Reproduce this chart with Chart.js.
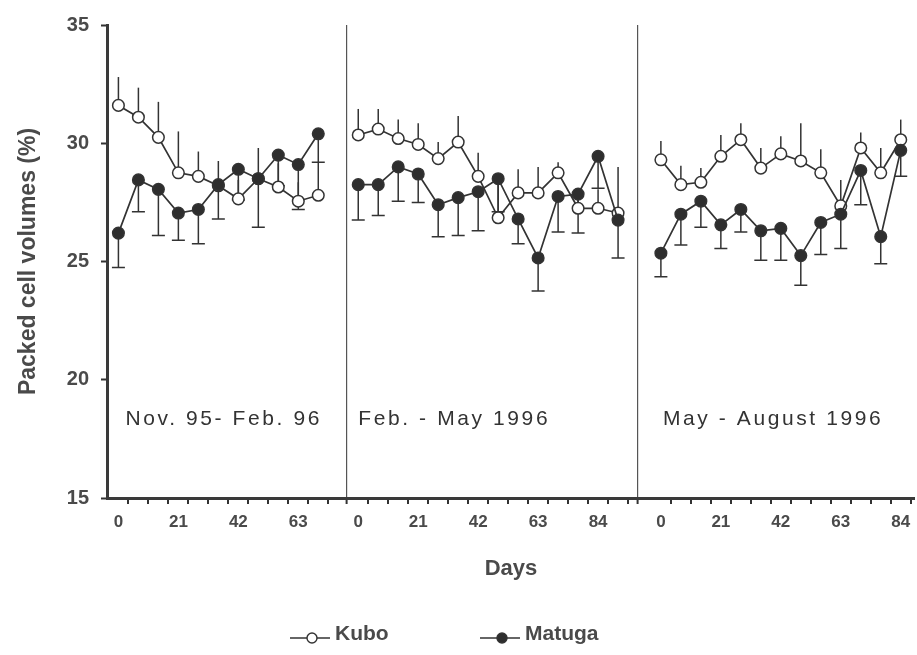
<!DOCTYPE html>
<html>
<head>
<meta charset="utf-8">
<title>Packed cell volumes</title>
<script src="https://cdn.jsdelivr.net/npm/chart.js@4.4.1/dist/chart.umd.min.js"></script>
<style>
  body { margin: 0; background: #fff; }
  #wrap { width: 917px; height: 655px; }
</style>
</head>
<body>
<div id="wrap"><canvas id="pcvChart" width="917" height="655"></canvas></div>
<script>
// sampling days in each period
var daysNovFeb = [0, 7, 14, 21, 28, 35, 42, 49, 56, 63, 70];
var daysFebMay = [0, 7, 14, 21, 28, 35, 42, 49, 56, 63, 70, 77, 84, 91];
var daysMayAug = [0, 7, 14, 21, 28, 35, 42, 49, 56, 63, 70, 77, 84];

var periodNames = ['Nov. 95- Feb. 96', 'Feb. - May 1996', 'May - August 1996'];

// mean PCV (%) and SE per herd
var kuboNovFeb     = [31.6, 31.1, 30.25, 28.75, 28.6, 28.2, 27.65, 28.5, 28.15, 27.55, 27.8];
var kuboNovFebSE   = [1.2, 1.25, 1.5, 1.75, 1.05, 1.05, 0.8, 1.3, 1.0, 0.8, 1.4];
var matugaNovFeb   = [26.2, 28.45, 28.05, 27.05, 27.2, 28.25, 28.9, 28.5, 29.5, 29.1, 30.4];
var matugaNovFebSE = [1.45, 1.35, 1.95, 1.15, 1.45, 1.45, 1.3, 2.05, 1.3, 1.9, 1.2];

var kuboFebMay     = [30.35, 30.6, 30.2, 29.95, 29.35, 30.05, 28.6, 26.85, 27.9, 27.9, 28.75, 27.25, 27.25, 27.05];
var kuboFebMaySE   = [1.1, 0.85, 0.8, 0.9, 0.7, 1.1, 1.0, 1.5, 1.0, 1.1, 0.45, 0.6, 0.8, 1.95];
var matugaFebMay   = [28.25, 28.25, 29.0, 28.7, 27.4, 27.7, 27.95, 28.5, 26.8, 25.15, 27.75, 27.85, 29.45, 26.75];
var matugaFebMaySE = [1.5, 1.3, 1.45, 1.2, 1.35, 1.6, 1.65, 1.4, 1.05, 1.4, 1.5, 1.65, 1.35, 1.6];

var kuboMayAug     = [29.3, 28.25, 28.35, 29.45, 30.15, 28.95, 29.55, 29.25, 28.75, 27.35, 29.8, 28.75, 30.15];
var kuboMayAugSE   = [0.8, 0.8, 0.6, 0.9, 0.7, 0.85, 0.75, 1.6, 1.0, 1.1, 0.65, 1.05, 0.85];
var matugaMayAug   = [25.35, 27.0, 27.55, 26.55, 27.2, 26.3, 26.4, 25.25, 26.65, 27.0, 28.85, 26.05, 29.7];
var matugaMayAugSE = [1.0, 1.3, 1.1, 1.0, 0.95, 1.25, 1.35, 1.25, 1.35, 1.45, 1.45, 1.15, 1.1];

var yTicks = [15, 20, 25, 30, 35];
var dayLabelStep = 21;

// the three periods share one x axis; each gets its own strip of it
var panelStart = [0, 84, 186];
var panelZero = [4, 88, 194];
var axisMax = 283;

var INK = '#333';
var TEXT = '#4a4a4a';
var FONT = "'Liberation Sans', Arial, sans-serif";

function toPoints(days, vals, p) {
  return days.map(function(d, i) { return { x: panelZero[p] + d, y: vals[i] }; });
}

// tick list for the x axis: labelled day ticks, small marks between them, panel edges
var xTickLabels = {};
var xTickMarks = {};
var xTickValues = [];
[daysNovFeb, daysFebMay, daysMayAug].forEach(function(days, p) {
  var end = p < 2 ? panelStart[p + 1] : axisMax;
  days.forEach(function(d) {
    if (d % dayLabelStep === 0) {
      var v = panelZero[p] + d;
      xTickLabels[v] = String(d);
      xTickValues.push(v);
    }
    var m = panelZero[p] + d + 3.5;
    if (m < end - 1) { xTickMarks[m] = true; xTickValues.push(m); }
  });
  if (p < 2) { xTickMarks[end] = true; xTickValues.push(end); }
});
xTickValues.sort(function(a, b) { return a - b; });
var dividers = [panelStart[1], panelStart[2]];

function herdSet(label, data, errors, filled) {
  return {
    label: label,
    data: data,
    errors: errors,
    errUp: !filled,
    errCap: filled,
    showLine: true,
    borderColor: INK,
    borderWidth: 1.7,
    pointRadius: 5.8,
    pointBorderWidth: 1.5,
    pointBorderColor: INK,
    pointBackgroundColor: filled ? '#2e2e2e' : '#fff',
    order: filled ? 0 : 1
  };
}

var datasets = [
  herdSet('Kubo', toPoints(daysNovFeb, kuboNovFeb, 0), kuboNovFebSE, false),
  herdSet('Kubo', toPoints(daysFebMay, kuboFebMay, 1), kuboFebMaySE, false),
  herdSet('Kubo', toPoints(daysMayAug, kuboMayAug, 2), kuboMayAugSE, false),
  herdSet('Matuga', toPoints(daysNovFeb, matugaNovFeb, 0), matugaNovFebSE, true),
  herdSet('Matuga', toPoints(daysFebMay, matugaFebMay, 1), matugaFebMaySE, true),
  herdSet('Matuga', toPoints(daysMayAug, matugaMayAug, 2), matugaMayAugSE, true)
];

// one-sided SE bars: Kubo upwards, Matuga downwards with a cap
var errorBars = {
  id: 'errorBars',
  beforeDatasetsDraw: function(chart) {
    var ctx = chart.ctx, ys = chart.scales.y;
    ctx.save();
    ctx.strokeStyle = INK;
    ctx.lineWidth = 1.5;
    chart.data.datasets.forEach(function(ds, i) {
      chart.getDatasetMeta(i).data.forEach(function(pt, j) {
        var v = ds.data[j].y;
        var end = ys.getPixelForValue(ds.errUp ? v + ds.errors[j] : v - ds.errors[j]);
        ctx.beginPath();
        ctx.moveTo(pt.x, pt.y);
        ctx.lineTo(pt.x, end);
        if (ds.errCap) {
          ctx.moveTo(pt.x - 6.5, end);
          ctx.lineTo(pt.x + 6.5, end);
        }
        ctx.stroke();
      });
    });
    ctx.restore();
  }
};

// period names inside each strip
var periodText = {
  id: 'periodText',
  afterDraw: function(chart) {
    var ctx = chart.ctx, xs = chart.scales.x, ys = chart.scales.y;
    var shift = [2.5, 0, 0.7];
    ctx.save();
    ctx.font = '21px ' + FONT;
    ctx.letterSpacing = '2.6px';
    ctx.fillStyle = INK;
    ctx.textAlign = 'left';
    ctx.textBaseline = 'middle';
    periodNames.forEach(function(name, p) {
      ctx.fillText(name, xs.getPixelForValue(panelZero[p] + shift[p]), ys.getPixelForValue(18.35));
    });
    ctx.restore();
  }
};

// legend: line with marker, then herd name
var herdLegend = {
  id: 'herdLegend',
  afterDraw: function(chart) {
    var ctx = chart.ctx;
    var y = 634;
    var items = [
      { x: 290, name: 'Kubo', fill: '#fff' },
      { x: 480, name: 'Matuga', fill: '#2e2e2e' }
    ];
    ctx.save();
    items.forEach(function(it) {
      ctx.strokeStyle = INK;
      ctx.lineWidth = 1.6;
      ctx.beginPath();
      ctx.moveTo(it.x, y + 4);
      ctx.lineTo(it.x + 40, y + 4);
      ctx.stroke();
      ctx.beginPath();
      ctx.arc(it.x + 22, y + 4, 5, 0, Math.PI * 2);
      ctx.fillStyle = it.fill;
      ctx.fill();
      ctx.lineWidth = 1.4;
      ctx.stroke();
      ctx.font = 'bold 21px ' + FONT;
      ctx.fillStyle = TEXT;
      ctx.textBaseline = 'middle';
      ctx.fillText(it.name, it.x + 45, y);
    });
    ctx.restore();
  }
};

new Chart(document.getElementById('pcvChart'), {
  type: 'scatter',
  data: { datasets: datasets },
  plugins: [errorBars, periodText, herdLegend],
  options: {
    responsive: false,
    animation: false,
    layout: { autoPadding: false, padding: { top: 25, right: 2, bottom: 68, left: 0 } },
    plugins: { legend: { display: false }, tooltip: { enabled: false } },
    scales: {
      x: {
        type: 'linear',
        min: 0,
        max: axisMax,
        afterBuildTicks: function(scale) {
          scale.ticks = xTickValues.map(function(v) { return { value: v }; });
        },
        afterFit: function(scale) { scale.height = 89; },
        ticks: {
          autoSkip: false,
          maxRotation: 0,
          padding: 0,
          color: TEXT,
          // tall line box pushes the day numbers down without side padding
          font: { family: FONT, size: 17, weight: 'bold', lineHeight: 2.1 },
          callback: function(v) { return xTickLabels[v] !== undefined ? xTickLabels[v] : ''; }
        },
        grid: {
          drawOnChartArea: true,
          tickLength: 6,
          color: function(c) { return c.tick && dividers.indexOf(c.tick.value) >= 0 ? '#555' : 'rgba(0,0,0,0)'; },
          lineWidth: function(c) { return c.tick && dividers.indexOf(c.tick.value) >= 0 ? 1.2 : 0; },
          tickColor: function(c) { return c.tick && xTickMarks[c.tick.value] ? INK : 'rgba(0,0,0,0)'; },
          tickWidth: 2
        },
        border: { color: '#3a3a3a', width: 3 },
        title: {
          display: true,
          text: 'Days',
          color: TEXT,
          font: { family: FONT, size: 22, weight: 'bold' },
          padding: { top: 0, bottom: 5 }
        }
      },
      y: {
        min: 15,
        max: 35,
        afterBuildTicks: function(scale) {
          scale.ticks = yTicks.map(function(v) { return { value: v }; });
        },
        afterFit: function(scale) { scale.width = 107; },
        ticks: {
          padding: 12,
          color: TEXT,
          font: { family: FONT, size: 20, weight: 'bold' }
        },
        grid: { drawOnChartArea: false, tickLength: 6, tickColor: INK, tickWidth: 2 },
        border: { color: '#3a3a3a', width: 3 },
        title: {
          display: true,
          text: 'Packed cell volumes (%)',
          color: TEXT,
          font: { family: FONT, size: 23, weight: 'bold' },
          padding: { top: 15, bottom: 0 }
        }
      }
    }
  }
});
</script>
</body>
</html>
